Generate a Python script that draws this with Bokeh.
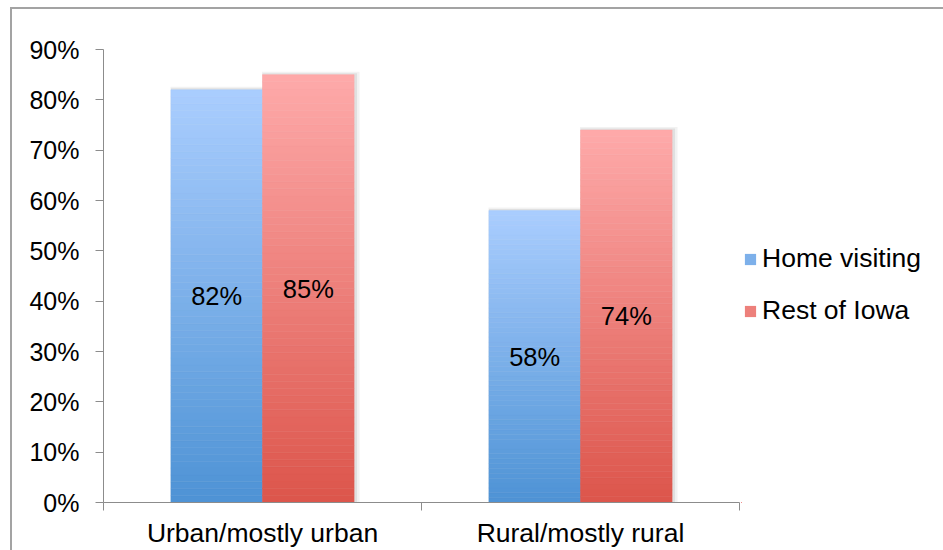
from bokeh.plotting import figure
from bokeh.layouts import row
from bokeh.models import (Range1d, FixedTicker, NumeralTickFormatter, ColumnDataSource,
                          Legend, LegendItem)
from bokeh.embed import file_html
from bokeh.resources import INLINE

# ---- data ----
categories = ["Urban/mostly urban", "Rural/mostly rural"]
series_names = ["Home visiting", "Rest of Iowa"]
home_visiting = [0.82, 0.58]
rest_of_iowa = [0.85, 0.74]
y_ticks = [0.0, 0.1, 0.2, 0.3, 0.4, 0.5, 0.6, 0.7, 0.8, 0.9]

# ---- style ----
FONT = "Liberation Sans"
grad = {  # (bottom colour, top colour)
    "Home visiting": ((0x4E, 0x93, 0xD5), (0xAA, 0xCD, 0xFE)),
    "Rest of Iowa": ((0xDC, 0x55, 0x4B), (0xFE, 0xAA, 0xAA)),
}
AXIS_GRAY = "#8c8c8c"
BORDER = "#a3a3a3"
N_SLICES = 60
BAR_W = 0.288
OFFSETS = [-0.144, 0.144]

p = figure(width=741, height=550, output_backend="svg", toolbar_location=None,
           x_range=Range1d(0, len(categories)), y_range=Range1d(0, 0.9),
           min_border_left=103, min_border_top=49, min_border_right=2,
           min_border_bottom=45)
p.outline_line_color = None
p.xgrid.visible = False
p.ygrid.visible = False
p.background_fill_color = None
p.border_fill_color = None


def hexcol(c):
    return "#%02x%02x%02x" % tuple(int(round(v)) for v in c)


all_series = [home_visiting, rest_of_iowa]
px_x = len(categories) / 636.0
px_y = 0.9 / 456.0

# soft shadows
for s_i, vals in enumerate(all_series):
    xs = [i + 0.5 + OFFSETS[s_i] for i in range(len(categories))]
    for dx, grow, a in [(2.5, 6, 0.05), (1.5, 3, 0.07)]:
        p.vbar(x=[x + dx * px_x for x in xs], width=BAR_W + grow * px_x,
               top=[v + grow * 0.5 * px_y for v in vals], bottom=0,
               fill_color="black", fill_alpha=a, line_color=None)

sources = []
for s_i, (name, vals) in enumerate(zip(series_names, all_series)):
    bot, topc = grad[name]
    xs, bottoms, tops, colors = [], [], [], []
    for c_i, v in enumerate(vals):
        for k in range(N_SLICES):
            f = (k + 0.5) / N_SLICES
            xs.append(c_i + 0.5 + OFFSETS[s_i])
            bottoms.append(v * k / N_SLICES)
            tops.append(v * (k + 1) / N_SLICES)
            colors.append(hexcol([b + (t - b) * f for b, t in zip(bot, topc)]))
    src = ColumnDataSource(dict(x=xs, bottom=bottoms, top=tops, color=colors))
    sources.append(src)
    p.vbar(x="x", bottom="bottom", top="top", width=BAR_W, source=src,
           fill_color="color", line_color="color", line_width=0.5)

    # value labels
    lab_src = ColumnDataSource(dict(
        x=[c_i + 0.5 + OFFSETS[s_i] for c_i in range(len(vals))],
        y=[v / 2 for v in vals],
        t=["%d%%" % round(v * 100) for v in vals]))
    p.text(x="x", y="y", text="t", source=lab_src, text_align="center",
           text_baseline="middle", text_font_size="25.5px", text_color="black",
           text_font={"value": FONT})

# ---- y axis ----
ya = p.yaxis[0]
ya.ticker = FixedTicker(ticks=y_ticks, minor_ticks=[])
ya.formatter = NumeralTickFormatter(format="0%")
ya.axis_line_color = AXIS_GRAY
ya.major_tick_line_color = AXIS_GRAY
ya.major_tick_in = 0
ya.major_tick_out = 8
ya.minor_tick_line_color = None
ya.major_label_standoff = 16
ya.major_label_text_font = FONT
ya.major_label_text_font_size = "25px"
ya.major_label_text_color = "black"

# ---- x axis ----
xa = p.xaxis[0]
xa.ticker = FixedTicker(ticks=[i + 0.5 for i in range(len(categories))],
                        minor_ticks=list(range(len(categories) + 1)))
xa.major_label_overrides = {i + 0.5: c for i, c in enumerate(categories)}
xa.axis_line_color = AXIS_GRAY
xa.major_tick_line_color = None
xa.major_tick_in = 0
xa.major_tick_out = 8
xa.minor_tick_line_color = AXIS_GRAY
xa.minor_tick_in = 0
xa.minor_tick_out = 8
xa.major_label_standoff = 7
xa.major_label_text_font = FONT
xa.major_label_text_font_size = "26.5px"
xa.major_label_text_color = "black"

# ---- legend panel (separate figure to the right; its ranges show no data) ----
lg = figure(width=202, height=550, output_backend="svg", toolbar_location=None,
            x_axis_type=None, y_axis_type=None,
            x_range=Range1d(len(categories) + 10, len(categories) + 11),
            y_range=Range1d(10, 11), min_border=0, min_border_left=0,
            min_border_right=0, min_border_top=0, min_border_bottom=0)
lg.outline_line_color = None
lg.xgrid.visible = False
lg.ygrid.visible = False
lg.background_fill_color = None
lg.border_fill_color = None
items = []
for name, src in zip(series_names, sources):
    r = lg.vbar(x="x", bottom="bottom", top="top", width=BAR_W, source=src,
                fill_color="color", line_color=None)
    items.append(LegendItem(label=name, renderers=[r], index=N_SLICES // 2))
legend = Legend(items=items, location=(2, 176), orientation="vertical",
                glyph_width=14, glyph_height=14, label_standoff=5, spacing=21,
                padding=0, margin=0, border_line_color=None,
                background_fill_alpha=0, label_text_font=FONT,
                label_text_font_size="26.5px", label_text_color="black",
                label_height=30)
lg.add_layout(legend, "center")

layout = row(p, lg, spacing=0)
layout.styles = {
    "background": (f"linear-gradient({BORDER},{BORDER}) 10px 7px / 2px 100% no-repeat, "
                   f"linear-gradient({BORDER},{BORDER}) 10px 7px / 100% 2px no-repeat, white"),
}

open("out.html", "w").write(file_html(layout, INLINE))
